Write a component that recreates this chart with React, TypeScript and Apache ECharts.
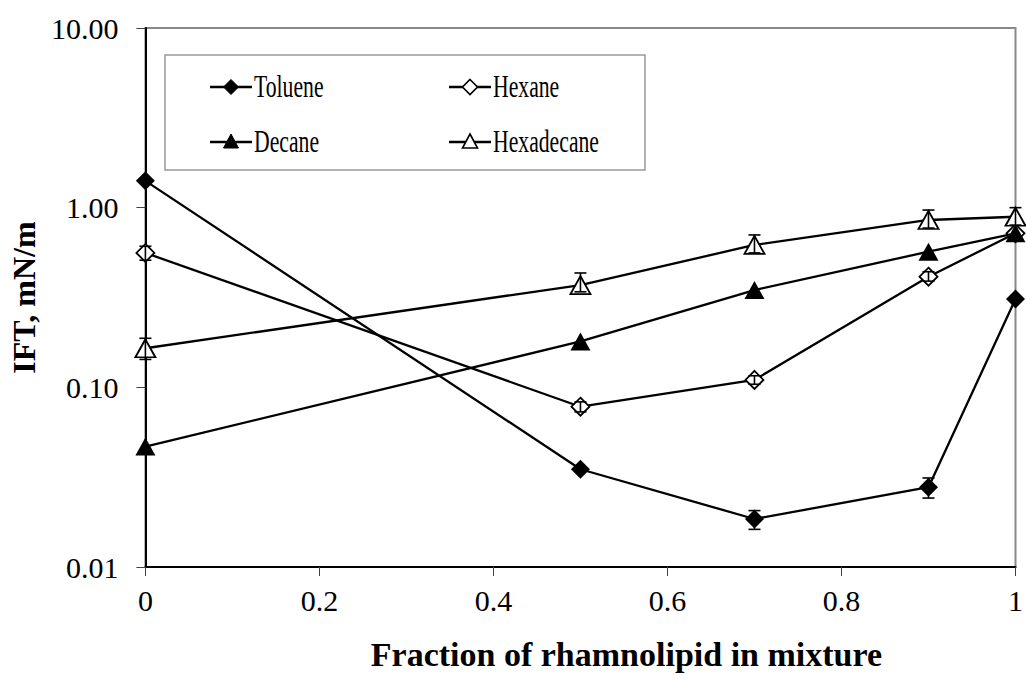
import { useEffect, useRef } from "react";
import * as echarts from "echarts";

const fractions = [0, 0.5, 0.7, 0.9, 1];
const seriesNames = ["Toluene", "Hexane", "Decane", "Hexadecane"];
const toluene = [1.41, 0.035, 0.0185, 0.0278, 0.31];
const hexane = [0.56, 0.078, 0.11, 0.413, 0.72];
const decane = [0.0468, 0.18, 0.348, 0.569, 0.72];
const hexadecane = [0.165, 0.371, 0.62, 0.854, 0.89];
// error bars: [fraction, low, high]
const tolueneErr = [[0.7, 0.0162, 0.0206], [0.9, 0.0242, 0.0313]];
const hexaneErr = [[0, 0.51, 0.61], [0.5, 0.073, 0.083], [0.7, 0.104, 0.116], [0.9, 0.39, 0.44]];
const hexadecaneErr = [[0, 0.143, 0.1875], [0.5, 0.34, 0.433], [0.7, 0.56, 0.705], [0.9, 0.77, 0.97], [1, 0.8, 1.0]];
const xTitle = "Fraction of rhamnolipid in mixture";
const yTitle = "IFT, mN/m";

const FONT = '"Liberation Serif", "Times New Roman", serif';

export default function App() {
  const ref = useRef<HTMLDivElement>(null);
  useEffect(() => {
    const chart = echarts.init(ref.current!, undefined, { renderer: "svg" });
    const values = [toluene, hexane, decane, hexadecane];
    const symbols = ["diamond", "diamond", "triangle", "triangle"];
    const filled = [true, false, true, false];
    const sizes: any[] = [[19, 19], [18, 18], [20, 18], [20, 18]];

    const lineSeries = values.map((vals, i) => ({
      name: seriesNames[i],
      type: "line",
      data: fractions.map((f, j) => [f, vals[j]]),
      symbol: symbols[i],
      symbolSize: sizes[i],
      showAllSymbol: true,
      lineStyle: { color: "#000", width: 2.3 },
      itemStyle: filled[i]
        ? { color: "#000", borderColor: "#000", borderWidth: 0 }
        : { color: "#fff", borderColor: "#000", borderWidth: 1.8 },
      z: 3 + i,
    }));

    const errSeries = [tolueneErr, hexaneErr, hexadecaneErr].map((d) => ({
      type: "custom",
      coordinateSystem: "cartesian2d",
      clip: false,
      z: 10,
      data: d,
      encode: { x: 0, y: [1, 2] },
      renderItem: (params: any, api: any) => {
        const x = api.value(0);
        const p1 = api.coord([x, api.value(1)]);
        const p2 = api.coord([x, api.value(2)]);
        const w = 6;
        const st = { stroke: "#000", lineWidth: 1.6 };
        return {
          type: "group",
          children: [
            { type: "line", shape: { x1: p1[0], y1: p1[1], x2: p2[0], y2: p2[1] }, style: st },
            { type: "line", shape: { x1: p1[0] - w, y1: p1[1], x2: p1[0] + w, y2: p1[1] }, style: st },
            { type: "line", shape: { x1: p2[0] - w, y1: p2[1], x2: p2[0] + w, y2: p2[1] }, style: st },
          ],
        };
      },
    }));

    // legend drawn as graphic (compressed text like the source)
    const legendPos = [
      [231, 87],
      [470, 87],
      [231, 142],
      [470, 142],
    ];
    const legendEls: any[] = [
      {
        type: "rect",
        shape: { x: 165, y: 55, width: 480, height: 115 },
        style: { fill: "#fff", stroke: "#999", lineWidth: 1.5 },
        z: 20,
      },
    ];
    seriesNames.forEach((name, i) => {
      const [cx, cy] = legendPos[i];
      legendEls.push({
        type: "line",
        shape: { x1: cx - 21, y1: cy, x2: cx + 21, y2: cy },
        style: { stroke: "#000", lineWidth: 2.3 },
        z: 21,
      });
      const markStyle = filled[i]
        ? { fill: "#000", stroke: "#000", lineWidth: 1 }
        : { fill: "#fff", stroke: "#000", lineWidth: 1.6 };
      const pts =
        symbols[i] === "diamond"
          ? [[cx, cy - 7.5], [cx + 7.5, cy], [cx, cy + 7.5], [cx - 7.5, cy]]
          : [[cx, cy - 8], [cx + 7.5, cy + 6], [cx - 7.5, cy + 6]];
      legendEls.push({ type: "polygon", shape: { points: pts }, style: markStyle, z: 22 });
      legendEls.push({
        type: "text",
        x: cx + 23,
        y: cy,
        scaleX: 0.7,
        style: { text: name, font: `31px ${FONT}`, fill: "#000", verticalAlign: "middle", align: "left" },
        z: 22,
      });
    });

    chart.setOption({
      animation: false,
      backgroundColor: "#fff",
      grid: {
        left: 145,
        right: 6,
        top: 28,
        bottom: 112,
        show: true,
        borderColor: "#888",
        borderWidth: 2,
        backgroundColor: "transparent",
      },
      xAxis: {
        type: "value",
        min: 0,
        max: 1,
        interval: 0.2,
        name: xTitle,
        nameLocation: "middle",
        nameGap: 70,
        nameTextStyle: {
          fontFamily: FONT,
          fontWeight: "bold",
          fontSize: 34,
          color: "#000",
          padding: [0, 0, 0, 92],
        },
        axisLine: { lineStyle: { color: "#000", width: 2 } },
        axisTick: { inside: false, length: 9, lineStyle: { color: "#444", width: 1 } },
        axisLabel: { fontFamily: FONT, fontSize: 30, color: "#000", margin: 18 },
        splitLine: { show: false },
      },
      yAxis: {
        type: "log",
        logBase: 10,
        min: 0.01,
        max: 10,
        name: yTitle,
        nameLocation: "middle",
        nameGap: 100,
        nameTextStyle: { fontFamily: FONT, fontWeight: "bold", fontSize: 32, color: "#000" },
        axisLine: { lineStyle: { color: "#000", width: 2 } },
        axisTick: { inside: false, length: 9, lineStyle: { color: "#444", width: 1 } },
        axisLabel: {
          fontFamily: FONT,
          fontSize: 30,
          color: "#000",
          margin: 27,
          formatter: (v: number) => v.toFixed(2),
        },
        splitLine: { show: false },
        minorTick: { show: false },
      },
      legend: { show: false },
      series: [...lineSeries, ...errSeries],
      graphic: legendEls,
    });
    return () => chart.dispose();
  }, []);
  return (
    <div
      ref={ref}
      style={{ position: "fixed", left: 0, top: 0, width: 1026, height: 679, background: "#fff" }}
    />
  );
}
